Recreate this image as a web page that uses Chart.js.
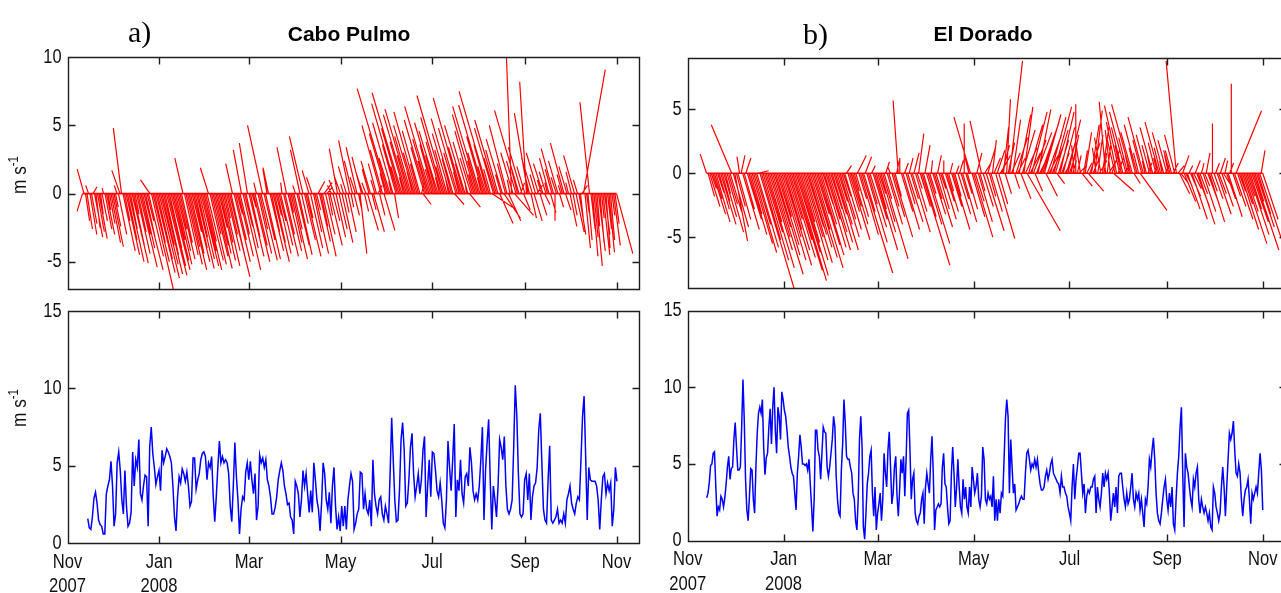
<!DOCTYPE html>
<html><head><meta charset="utf-8">
<script src="https://cdn.jsdelivr.net/npm/chart.js@4.4.1/dist/chart.umd.min.js"></script>
<style>
html,body{margin:0;padding:0;background:#fff;overflow:hidden;width:1281px;height:593px;position:relative;}
canvas{position:absolute;}
.lbl{position:absolute;white-space:nowrap;color:#000;line-height:1;}
.ttl{font:bold 21px 'Liberation Sans',Arial,sans-serif;transform:translateX(-50%);}
.ser{font:30px 'Liberation Serif','Times New Roman',serif;}
.ylab{position:absolute;white-space:nowrap;color:#111;line-height:1;font:21px 'Liberation Sans',Arial,sans-serif;transform:translate(-50%,-50%) rotate(-90deg) scale(0.82,1);}
.ylab sup{font-size:14px;vertical-align:8px;line-height:1;}
</style></head><body>
<canvas id="tl" width="660" height="265" style="left:0;top:40px"></canvas>
<canvas id="bl" width="660" height="293" style="left:0;top:300px"></canvas>
<canvas id="tr" width="660" height="265" style="left:640px;top:40px"></canvas>
<canvas id="br" width="660" height="293" style="left:640px;top:300px"></canvas>
<div class="lbl ser" style="left:128px;top:15px">a)</div>
<div class="lbl ser" style="left:803px;top:17px">b)</div>
<div class="lbl ttl" style="left:349px;top:22px">Cabo Pulmo</div>
<div class="lbl ttl" style="left:983px;top:22px">El Dorado</div>
<div class="ylab" style="left:18px;top:175px">m s<sup>-1</sup></div>
<div class="ylab" style="left:18px;top:408px">m s<sup>-1</sup></div>
<script>
// ---------- axis data (x = days since 1 Nov 2007) ----------
const monthTickDays = [0, 61, 121, 182, 243, 305, 366];
const monthTickLabels = [['Nov','2007'], ['Jan','2008'], 'Mar', 'May', 'Jul', 'Sep', 'Nov'];
const xRange = [0, 381];
const cpVecTicks = [-5, 0, 5, 10];
const edVecTicks = [-5, 0, 5];
const speedTicks = [0, 5, 10, 15];

// ---------- Cabo Pulmo wind sticks (daily, from day 10), m/s ----------
const cpStickStart = 10;
const cpStickV = [
-1.3,1.8,-2.0,-2.6,0.6,-3.0,-2.2,0.5,-3.2,-2.5,
-2.8,-3.3,-1.5,-2.0,0.4,-2.6,-3.0,-1.2,-2.2,-3.6,
-3.9,-2.4,-1.0,0.6,-3.0,1.7,4.8,-4.2,-2.0,-4.5,
-3.4,-5.0,-2.6,-5.1,-3.8,-1.5,-4.4,-2.8,-5.4,-3.0,
-4.0,-5.6,-3.2,-2.0,-4.6,1.0,-7.0,-5.0,-3.6,-5.8,
-4.8,-6.2,-5.2,-3.8,-5.9,-4.5,-6.0,-5.3,-4.0,-5.6,
-4.9,-3.4,-5.2,-4.2,-2.6,-4.8,-3.6,2.6,-4.5,-5.2,
-3.9,-5.6,-4.4,-2.8,-5.0,-4.0,-5.5,-3.2,-4.8,-5.3,
-4.2,-5.6,-3.5,-4.9,1.9,-5.2,-3.0,-4.6,-5.5,-3.8,
-4.4,-2.5,-4.9,-3.6,-5.3,-1.8,-4.2,-3.0,-6.1,-4.5,
2.2,-5.0,-3.4,-1.5,-4.6,-3.0,3.2,-5.6,-2.4,-4.0,
3.7,-4.6,-3.2,-1.0,-5.0,-3.8,0.8,-4.4,-2.6,-4.9,
5.0,-3.4,-4.8,1.8,1.9,-4.2,-2.8,-5.0,-3.6,-1.6,
-4.4,-2.0,-3.8,0.8,-4.6,-3.0,3.4,-4.2,-1.4,-3.6,
-4.8,-2.6,0.6,-3.8,-4.5,3.2,-2.2,4.2,-3.4,-4.6,
-1.8,1.7,-4.0,1.2,-2.8,-4.4,-1.2,0.9,-3.5,-2.4,
-4.6,0.8,-3.0,0.5,-1.6,-3.8,0.6,-2.0,1.0,-3.2,
3.3,-2.6,1.4,-3.6,0.7,-1.4,2.0,-2.8,3.9,-1.0,
2.4,-1.6,1.2,3.4,-1.0,-4.4,2.7,1.5,-1.3,0.8,
-2.7,1.8,2.4,-1.2,-2.8,1.0,2.2,0.6,-1.6,5.0,
3.2,-2.7,1.5,4.4,7.7,2.6,0.9,5.2,-1.8,3.6,
6.6,2.0,4.8,7.4,1.2,3.8,5.8,2.8,6.2,4.2,
1.6,5.0,3.0,6.0,2.2,4.6,0.8,-0.8,3.4,5.4,
2.4,4.0,6.4,1.8,3.6,5.2,2.8,4.6,1.2,3.8,
5.6,2.0,7.2,3.2,1.0,4.4,2.6,5.5,-0.8,3.0,
4.8,1.6,7.0,3.4,2.2,5.0,0.8,3.8,-1.0,2.6,
4.6,1.4,5.8,2.4,6.4,3.0,1.2,4.2,6.5,2.0,
3.6,7.5,1.8,-1.0,4.8,2.6,5.4,3.2,-2.2,1.4,
4.0,-1.8,2.2,5.0,-2.0,1.0,10.8,3.0,-1.6,2.4,
1.6,6.1,0.8,3.4,-1.2,2.0,8.2,5.9,1.2,-1.8,
2.6,-2.0,1.4,0.6,3.0,-1.6,1.0,2.2,-0.8,1.6,
0.8,2.6,-1.4,1.8,3.3,-2.0,1.2,2.4,-1.0,0.6,
1.4,3.7,-1.2,2.0,0.8,-2.4,1.6,-1.6,2.8,-2.8,
1.0,-3.0,-1.8,0.6,9.1,-4.0,-1.4,-3.4,6.7,-2.6,
-4.6,-3.2,-5.3,-2.4,-4.2,-3.6,-1.8,-4.5,-3.0,-4.0,
-2.6,-4.3,-3.4,-1.6,-3.8,-2.2,-4.4];
const cpStickU = [
-0.4,-0.5,0.3,0.4,-0.2,0.5,0.4,0.3,0.6,0.3,
0.5,0.6,0.2,0.4,-0.1,0.5,0.6,0.2,0.4,0.7,
0.8,0.5,0.2,-0.2,0.6,-0.6,-0.6,0.9,0.4,1.0,
0.7,1.1,0.5,1.2,0.8,0.3,1.0,0.6,1.3,0.7,
0.9,1.4,0.7,0.5,1.1,-0.7,1.6,1.2,0.8,1.4,
1.1,1.5,1.3,0.9,1.4,1.0,1.5,1.3,0.9,1.4,
1.2,0.8,1.2,1.0,0.6,1.1,0.8,-0.6,1.0,1.2,
0.9,1.3,1.0,0.7,1.2,0.9,1.3,0.7,1.1,1.3,
1.0,1.3,0.8,1.2,-0.6,1.2,0.7,1.1,1.3,0.9,
1.0,0.6,1.1,0.8,1.2,0.4,1.0,0.7,1.5,1.0,
-0.5,1.2,0.8,0.4,1.1,0.7,-0.6,1.3,0.6,0.9,
-0.6,1.1,0.7,0.3,1.2,0.9,-0.2,1.0,0.6,1.2,
-1.1,0.8,1.1,-0.3,-0.4,1.0,0.6,1.2,0.8,0.4,
1.0,0.5,0.9,-0.1,1.1,0.7,-0.7,1.0,0.3,0.8,
1.1,0.6,-0.2,0.9,1.0,-0.7,0.5,-1.0,0.8,1.1,
0.4,-0.5,0.9,-0.4,0.6,1.0,0.3,0.5,0.8,0.5,
1.0,0.6,0.7,0.4,0.3,0.9,-0.3,0.5,-0.4,0.7,
-0.6,0.6,-0.5,0.8,-0.2,0.3,-0.6,0.6,-0.8,0.2,
-0.6,0.4,-0.4,-0.8,0.2,0.5,-0.7,-0.5,0.3,-0.3,
0.8,-0.5,-0.7,0.3,0.8,-0.3,-0.6,0.3,0.4,-1.4,
-0.9,0.8,-0.4,-1.3,-2.3,-0.8,-0.2,-1.5,0.3,-1.0,
-1.9,-0.6,-1.4,-2.2,-0.3,-1.1,-1.7,-0.8,-1.8,-1.2,
-0.4,-1.5,-0.9,-1.7,-0.6,-1.3,0.2,0.6,-1.0,-1.6,
-0.7,-1.2,-1.9,-0.5,-1.0,-1.5,-0.8,-1.4,-0.3,-1.1,
-1.6,-0.6,-2.1,-0.9,-0.2,-1.3,-0.7,-1.6,0.7,-0.9,
-1.4,-0.4,-2.0,-1.0,-0.6,-1.5,-0.1,-1.1,0.8,-0.8,
-1.3,-0.4,-1.7,-0.7,-1.9,-0.9,-0.3,-1.2,-1.9,-0.6,
-1.0,-2.2,-0.5,1.5,-1.4,-0.8,-1.6,-0.9,1.0,-0.4,
-1.2,1.2,-0.6,-1.3,0.9,-0.2,-0.4,-0.9,1.4,-0.7,
-0.4,-1.8,0.3,-1.0,0.5,-0.6,-0.5,-1.0,-0.3,0.4,
-0.8,0.6,-0.4,0.4,-0.9,0.5,-0.3,-0.7,0.4,-0.5,
-0.2,-0.7,0.4,-0.5,-0.9,0.0,-0.4,-0.7,0.3,-0.2,
-0.4,-1.0,0.4,-0.6,-0.2,0.5,-0.4,0.3,-0.8,0.6,
-0.3,0.5,0.2,0.4,1.6,0.4,0.2,0.3,-0.7,0.3,
0.4,0.3,0.5,0.2,0.5,0.3,0.2,0.5,0.4,0.3,
0.3,0.4,0.3,0.2,0.5,0.3,1.2];

// ---------- El Dorado wind sticks (daily, from day 12), m/s ----------
const edStickStart = 12;
const edStickV = [
1.5,-1.8,-2.6,-1.2,-3.2,-2.0,-3.8,-1.5,-2.8,-4.0,
-2.2,-3.4,-1.6,-4.6,-2.4,-3.0,3.8,-4.2,-5.3,-2.6,
-3.6,1.3,1.4,-4.4,-2.8,1.2,-3.6,-4.8,-3.2,-5.5,
-6.2,-4.0,-5.8,0.2,-9.1,-5.2,-6.8,-4.6,-7.4,-3.8,
-6.0,-5.0,-7.9,-4.2,-6.4,-5.6,-3.4,-6.8,-5.0,-7.2,
-4.4,-6.0,-3.6,-6.6,-5.2,-7.6,-8.4,-6.2,-8.0,-5.4,
-3.8,-6.8,-5.0,-7.0,-4.2,-4.8,-5.8,-6.6,-4.4,-7.4,
-3.2,-5.6,-6.4,-4.0,-2.4,-5.8,-3.6,-6.0,-4.6,-2.8,
-5.4,-3.2,-6.0,-4.0,-2.2,-5.0,-3.6,-1.8,-4.4,0.6,
-3.0,-5.2,-2.6,-4.0,-1.4,-3.4,1.4,-2.0,-4.8,-7.8,
-3.0,1.3,-5.4,-2.4,-4.2,0.6,-3.6,-6.0,-2.8,-4.6,
-1.6,-3.8,-6.7,-2.0,0.9,-4.0,-2.6,0.5,-3.4,-5.0,
-1.8,1.0,5.7,1.2,-3.0,-4.4,0.8,-2.4,-3.8,1.2,
-2.0,-4.6,1.6,-3.0,-1.2,3.1,-2.6,-7.2,-3.4,2.2,
-4.0,-5.5,-1.6,1.0,-3.2,-2.0,-4.2,1.4,-2.8,-1.2,
-3.6,1.0,-2.2,-3.0,-1.4,0.8,-2.6,-4.4,-1.8,0.6,
-3.2,1.0,-2.0,-3.8,3.9,-1.6,-2.8,1.2,4.4,-3.4,
-5.0,-2.2,1.6,-3.8,-1.4,4.1,-2.6,0.8,-4.5,2.0,
-1.8,-3.0,2.6,1.2,-5.1,1.8,-2.4,1.4,2.2,3.6,
-1.6,5.8,2.4,8.8,1.6,4.2,-1.2,2.8,1.2,4.6,
-2.0,3.4,5.2,2.0,-4.5,3.8,1.6,4.8,2.6,-1.4,
3.2,5.0,1.8,4.0,2.4,4.6,-1.8,3.0,1.4,4.4,
2.2,5.2,3.4,-0.8,2.6,4.8,1.6,3.6,0.8,2.4,
4.2,1.2,3.0,1.0,2.2,5.4,1.4,0.6,2.6,-1.0,
1.8,3.2,0.8,-1.4,2.4,3.8,1.2,4.9,2.0,3.0,
1.0,2.8,3.6,1.6,5.6,2.4,0.8,3.4,1.8,-1.4,
2.6,4.0,1.2,5.3,2.2,3.6,0.6,4.8,2.8,1.4,
5.4,3.2,-0.8,2.0,3.8,1.6,-2.9,2.6,4.4,1.0,
3.0,0.8,2.2,1.4,3.6,0.6,2.4,1.2,4.0,2.0,
1.0,3.2,0.6,2.6,1.4,1.8,1.8,0.8,3.0,8.8,
0.6,-1.6,-0.8,1.4,-2.2,-1.0,-2.8,0.6,-1.8,-3.6,
-1.2,1.0,-2.6,-4.0,-1.6,0.8,-3.0,-1.0,1.6,-2.4,
-3.8,-1.4,3.9,-2.0,0.8,-3.2,-1.6,1.2,-2.6,-0.8,
1.0,-2.0,-3.4,0.8,7.0,-1.8,-2.6,4.9,-3.6,-1.4,
-4.4,-2.4,-5.5,-3.0,-1.8,-4.8,-2.8,-3.8,-6.0,-2.2,
-4.2,-3.2,-6.6,1.8,-3.6];
const edStickU = [
-0.5,0.5,0.8,0.4,1.0,0.6,1.1,0.5,0.8,1.2,
0.6,1.0,0.4,1.3,0.7,0.9,-1.6,1.2,1.0,0.7,
1.0,-0.2,0.3,1.3,0.8,0.4,1.1,1.4,0.9,1.6,
1.8,1.2,1.7,0.8,2.7,1.5,2.0,1.4,2.2,1.1,
1.8,1.5,2.4,1.3,1.9,1.7,1.0,2.0,1.5,2.2,
1.3,1.8,1.1,2.0,1.6,2.3,2.5,1.9,2.4,1.6,
1.1,2.0,1.5,2.1,1.3,1.4,1.7,2.0,1.3,2.2,
1.0,1.7,1.9,1.2,0.8,1.7,1.1,1.8,1.4,0.9,
1.6,1.0,1.8,1.2,0.7,1.5,1.1,0.6,1.3,0.4,
0.9,1.6,0.8,1.2,0.4,1.0,0.7,0.6,1.4,2.4,
0.9,0.5,1.6,0.7,1.3,0.3,1.1,1.8,0.8,1.4,
0.5,1.1,2.0,0.6,0.3,1.2,0.8,-0.2,1.0,1.5,
0.5,0.2,-0.4,0.0,0.9,1.3,0.3,0.7,1.2,0.3,
0.6,1.4,0.4,0.9,0.4,0.4,0.8,2.2,1.0,0.4,
1.2,1.7,0.5,0.1,1.0,0.6,1.3,0.3,0.8,0.4,
1.1,0.0,0.7,0.9,0.4,0.2,0.8,1.3,0.5,0.2,
1.0,0.3,0.6,1.1,0.0,0.5,0.8,-0.3,-1.3,1.0,
1.5,0.7,0.4,1.1,0.4,-0.9,0.8,0.5,1.4,0.6,
0.5,0.9,0.3,0.5,1.5,0.6,0.7,0.8,0.6,0.4,
0.5,0.3,0.5,1.0,0.7,0.6,0.4,0.9,0.6,0.9,
0.8,1.0,0.7,0.9,2.6,1.1,0.8,1.2,1.0,0.6,
1.2,1.0,0.9,1.4,0.8,1.3,0.9,1.1,0.7,1.2,
0.9,1.4,1.0,0.6,0.8,1.1,0.6,0.9,0.5,0.7,
1.0,0.4,0.6,0.3,-0.2,0.0,0.3,0.6,-0.4,0.8,
0.3,0.5,0.4,1.2,0.8,0.6,0.5,0.6,-0.3,0.4,
0.6,-0.5,0.5,0.2,-0.5,0.3,0.5,-0.4,0.6,1.6,
-0.6,-0.8,0.4,-1.2,-0.5,-0.9,0.4,-1.3,-0.7,-0.3,
-1.5,-0.9,0.5,-0.5,-1.0,-0.4,2.1,-0.7,-1.2,-0.2,
-0.8,0.3,-0.6,-0.3,-1.0,0.2,-0.6,-0.3,-1.1,-0.5,
-0.2,-0.9,0.3,-0.7,-0.3,-0.5,-0.5,0.4,-0.8,-0.8,
0.5,0.8,0.6,0.5,0.9,0.5,1.0,0.3,0.8,1.2,
0.6,0.4,1.0,1.3,0.6,0.2,1.0,0.4,0.3,0.9,
1.2,0.5,0.0,0.7,0.3,1.1,0.6,0.4,0.9,0.5,
0.2,0.7,1.1,0.3,0.0,0.6,0.9,2.0,1.2,0.5,
1.4,0.8,1.8,1.0,0.6,1.6,0.9,1.3,2.0,0.7,
1.4,1.0,2.2,0.3,1.2];

// ---------- wind speed (m/s), read in two stretches per site ----------
const cpSpeedSpanA = [13.5, 195.2];
const cpSpeedA = [
1.6,1.0,0.9,1.7,2.9,3.3,2.6,1.5,1.2,1.1,
0.6,0.6,3.2,3.7,4.1,5.3,3.7,1.1,1.9,5.2,
5.9,4.7,2.8,1.9,4.7,2.4,1.1,1.3,2.0,5.9,
3.7,5.4,4.9,6.7,3.2,2.8,3.7,4.4,4.3,1.1,
6.2,7.5,5.8,4.9,3.8,4.3,4.7,3.4,6.0,5.2,
5.6,6.1,5.9,5.6,5.2,3.7,1.7,0.8,3.0,4.3,
3.9,4.8,4.5,4.0,4.6,3.7,2.4,2.7,5.5,5.5,
3.5,4.1,4.5,5.4,5.8,5.9,5.6,4.1,5.2,4.9,
5.6,3.1,1.4,3.0,4.9,6.6,5.2,5.6,5.2,5.4,
5.2,4.5,2.4,1.4,3.7,6.5,4.3,2.8,0.6,2.2,
3.0,2.8,4.6,5.2,4.1,5.3,4.1,3.2,4.5,1.5,
2.4,5.7,5.2,5.5,4.9,5.4,4.1,3.7,3.0,1.9,
1.9,2.3,3.0,4.1,4.7,5.2,4.7,3.7,3.2,2.5,
2.6,1.7,1.5,0.6,4.0,3.7,3.2,1.7,2.8,4.7,
3.7,4.5,3.2,2.0,3.4,2.0,5.2,4.1,2.8,2.2,
0.8,2.6,5.2,4.5,2.8,2.2,3.3,1.3,3.7,4.9,
2.4,0.9,1.7,0.8,2.4,1.1,2.4,0.9,2.8,3.7,
4.5,4.0,0.9,1.3,1.9,2.2,4.6];
const cpSpeedSpanB = [196.3, 366.3];
const cpSpeedB = [
4.5,2.2,3.2,2.2,1.9,2.8,1.1,5.4,3.2,2.4,
1.9,2.8,3.0,1.9,1.5,2.4,1.9,1.3,4.5,8.1,
5.4,2.8,1.4,1.5,3.4,6.7,7.8,6.0,2.4,2.6,
4.1,6.2,7.1,4.5,3.0,3.7,4.5,3.2,4.1,6.0,
6.9,1.7,3.7,5.4,3.0,5.9,5.8,4.7,3.4,3.0,
3.9,2.8,1.3,1.0,2.8,6.6,4.9,3.4,5.4,7.7,
1.7,4.1,3.4,5.4,3.2,2.6,4.3,4.5,3.7,6.2,
5.2,3.4,2.8,3.2,2.8,3.7,5.4,7.5,1.5,4.7,
6.5,8.0,4.1,0.9,3.7,2.8,1.7,3.7,6.7,6.2,
5.4,6.9,3.7,2.2,1.9,2.2,2.8,6.2,10.2,8.2,
4.5,1.9,1.7,1.9,4.1,4.5,2.8,4.5,1.5,3.0,
3.7,3.9,4.9,7.3,8.4,5.2,2.2,1.5,1.3,4.1,
6.3,1.5,1.3,1.5,1.7,2.2,1.3,1.5,1.3,1.9,
1.3,2.8,3.2,3.7,2.6,2.2,1.9,2.6,3.0,2.8,
5.4,8.2,9.5,5.6,1.5,4.9,4.1,4.0,4.0,4.0,
3.7,2.8,0.9,2.8,4.3,4.5,3.2,3.9,3.4,3.9,
1.1,2.2,4.9,4.0];
const edSpeedSpanA = [12.1, 183.5];
const edSpeedA = [
2.8,3.1,3.8,4.9,5.0,5.7,5.8,3.6,1.6,2.2,
2.0,2.9,2.7,2.2,2.8,3.7,4.8,5.5,4.0,4.7,
4.8,6.6,7.7,6.1,4.6,4.6,4.8,7.4,10.5,7.9,
4.0,2.0,1.3,2.9,4.7,4.6,2.7,1.8,4.8,7.0,
8.3,8.7,8.3,9.2,6.1,4.3,5.4,5.7,7.4,8.6,
6.3,8.7,10.0,7.2,5.7,8.7,8.1,6.6,9.7,9.2,
8.5,8.1,7.2,6.1,5.5,4.8,4.4,4.2,3.1,2.0,
4.4,5.5,6.9,6.1,5.0,5.0,4.9,5.0,4.6,5.3,
3.7,2.2,0.6,2.7,7.2,7.2,5.9,5.5,4.0,5.7,
7.4,7.1,7.0,4.8,4.2,4.8,5.7,6.6,8.1,7.4,
4.2,2.7,1.8,1.6,4.6,6.3,9.2,7.7,5.5,5.3,
5.3,4.8,4.4,3.1,2.7,1.3,0.7,2.7,6.6,8.1,
6.1,0.9,0.1,1.8,3.7,4.4,5.5,5.9,3.1,1.6,
3.5,0.7,1.8,2.4,3.1,1.3,2.7,5.7,4.4,3.5,
5.9,7.1,4.8,2.4,3.1,4.8,5.5,2.9,1.6,3.3,
5.3,4.4,5.5,2.9,5.3,8.3,8.5,5.9,2.7,4.0,
4.4,1.8,1.3,1.1,1.6,1.8,2.7,3.1,1.1,3.5,
4.4,3.7,3.1,5.3,6.8,4.4,0.7,2.0,2.2,2.4,
2.2,2.4,4.8,5.7,3.7,3.5,2.2,1.1,1.3,4.4,
6.1,4.4,2.2,3.5,5.3,3.5,2.2,1.8,4.0,2.7,
3.5,2.2,1.8,3.5,2.2,4.8,4.0,3.1,3.5];
const edSpeedSpanB = [184.4, 366.0];
const edSpeedB = [
4.4,2.7,2.2,2.9,6.1,5.3,2.7,2.4,3.1,2.7,
2.9,2.2,4.2,1.3,2.7,1.3,2.7,1.8,3.1,2.9,
5.3,7.9,9.2,8.1,3.1,6.6,4.8,3.1,3.7,2.0,
2.2,2.4,2.7,2.9,2.7,2.7,4.4,5.7,5.9,5.3,
4.6,5.0,4.8,5.3,4.8,5.3,4.4,3.7,3.3,3.3,
3.5,4.2,4.6,4.0,4.4,5.0,5.3,4.4,4.2,4.0,
3.8,3.7,3.1,4.2,3.5,3.5,3.1,2.9,2.2,1.8,
1.3,3.5,5.0,2.7,4.0,4.8,5.7,5.7,4.4,3.1,
3.7,1.8,2.9,3.3,3.1,3.5,3.5,4.0,4.2,1.8,
3.5,2.7,2.2,3.1,4.4,3.5,4.4,4.0,4.4,3.1,
1.3,2.2,3.1,2.2,3.5,1.8,4.2,4.4,4.4,3.5,
2.7,2.2,3.1,2.4,2.7,3.5,4.4,2.7,2.2,3.1,
2.7,3.1,2.0,2.7,1.8,0.9,2.7,2.4,3.5,5.3,
4.8,5.9,6.7,5.3,3.1,1.8,1.3,1.1,1.8,2.7,
3.5,4.0,2.7,2.0,3.1,2.2,3.5,1.1,0.7,2.7,
4.4,5.5,7.4,8.7,4.4,0.9,5.7,4.8,4.4,3.5,
2.7,2.2,4.0,3.5,4.4,4.8,2.7,1.8,2.7,2.2,
1.8,2.2,1.8,1.3,1.8,0.9,0.7,3.5,3.1,2.2,
1.8,1.3,1.8,3.5,4.8,3.5,1.6,3.5,5.3,7.0,
6.6,7.0,7.8,5.9,4.4,4.2,5.0,4.4,2.7,1.6,
2.7,3.3,3.5,4.0,2.7,1.1,3.1,2.7,3.1,3.5,
3.1,4.4,5.7,4.6,2.0];

// horizontal display scale of the sticks (days per m/s) so that u and v share the same pixel length
const cpStickScale = 9.07;
const edStickScale = 8.12;

// ---------- builders ----------
function stickPoints(start, u, v, k) {
  const pts = [];
  for (let i = 0; i < v.length; i++) {
    const d = start + i;
    pts.push({x: d, y: 0}, {x: d + u[i] * k, y: v[i]}, {x: d, y: null});
  }
  return pts;
}
function seriesPoints(vals, span) {
  const step = (span[1] - span[0]) / (vals.length - 1);
  return vals.map((v, i) => ({x: span[0] + i * step, y: v}));
}

const BASE_FONT = "'Liberation Sans',Arial,sans-serif";

// MATLAB-like box with inward ticks, and condensed tick labels placed at the scales' tick pixels
const boxPlugin = {
  id: 'matlabBox',
  afterDraw(chart) {
    const {ctx, chartArea: a, scales: {x, y}} = chart;
    const opt = chart.options.plugins.matlabBox;
    const L = Math.round(a.left) + 0.5, R = Math.round(a.right) + 0.5;
    const T = Math.round(a.top) + 0.5, B = Math.round(a.bottom) + 0.5;
    const tl = 7;
    ctx.save();
    ctx.strokeStyle = '#1e1e1e';
    ctx.lineWidth = 1.4;
    ctx.beginPath();
    ctx.rect(L, T, R - L, B - T);
    x.ticks.forEach(t => {
      const p = Math.round(x.getPixelForValue(t.value)) + 0.5;
      ctx.moveTo(p, B); ctx.lineTo(p, B - tl);
      ctx.moveTo(p, T); ctx.lineTo(p, T + tl);
    });
    y.ticks.forEach(t => {
      const p = Math.round(y.getPixelForValue(t.value)) + 0.5;
      ctx.moveTo(L, p); ctx.lineTo(L + tl, p);
      ctx.moveTo(R, p); ctx.lineTo(R - tl, p);
    });
    ctx.stroke();

    ctx.fillStyle = '#111';
    // y tick labels
    ctx.font = '20px ' + BASE_FONT;
    ctx.textAlign = 'right';
    ctx.textBaseline = 'middle';
    y.ticks.forEach(t => {
      ctx.save();
      ctx.translate(a.left - 6, y.getPixelForValue(t.value));
      ctx.scale(0.82, 1);
      ctx.fillText(String(t.value), 0, 0);
      ctx.restore();
    });
    // x tick labels (bottom panels only)
    if (opt.showX) {
      ctx.font = '21px ' + BASE_FONT;
      ctx.textAlign = 'center';
      ctx.textBaseline = 'alphabetic';
      x.ticks.forEach((t, i) => {
        const lab = [].concat(monthTickLabels[i]);
        lab.forEach((s, j) => {
          ctx.save();
          ctx.translate(x.getPixelForValue(t.value), a.bottom + 24.5 + j * 24.5);
          ctx.scale(0.79, 1);
          ctx.fillText(s, 0, 0);
          ctx.restore();
        });
      });
    }
    ctx.restore();
  }
};

function panel(id, cfg) {
  return new Chart(document.getElementById(id), {
    type: 'line',
    data: {datasets: cfg.datasets},
    options: {
      responsive: false, animation: false, devicePixelRatio: 1, events: [],
      layout: {padding: cfg.pad},
      plugins: {legend: {display: false}, tooltip: {enabled: false}, title: {display: false},
                matlabBox: {showX: cfg.showX}},
      elements: {point: {radius: 0, hoverRadius: 0}, line: {tension: 0}},
      scales: {
        x: {
          type: 'linear', min: xRange[0], max: xRange[1],
          afterBuildTicks: s => { s.ticks = monthTickDays.map(v => ({value: v})); },
          ticks: {display: false, autoSkip: false, callback: (v, i) => monthTickLabels[i]},
          grid: {display: false, drawTicks: false}, border: {display: false},
          afterFit: s => { s.height = cfg.xHeight; s.paddingLeft = 0; s.paddingRight = 0; }
        },
        y: {
          type: 'linear', min: cfg.yMin, max: cfg.yMax,
          afterBuildTicks: s => { s.ticks = cfg.yTicks.map(v => ({value: v})); },
          ticks: {display: false},
          grid: {display: false, drawTicks: false}, border: {display: false},
          afterFit: s => { s.width = 40; s.paddingTop = 0; s.paddingBottom = 0; }
        }
      }
    },
    plugins: [boxPlugin]
  });
}

const red = '#ff0000', blue = '#0000ff';
function stickDatasets(start, u, v, k) {
  return [
    {data: stickPoints(start, u, v, k), borderColor: red, borderWidth: 1.2, spanGaps: false, pointRadius: 0},
    {data: [{x: start, y: 0}, {x: start + v.length - 1, y: 0}], borderColor: red, borderWidth: 1.6, pointRadius: 0}
  ];
}
function speedDataset(a, spanA, b, spanB) {
  return [{data: seriesPoints(a, spanA).concat(seriesPoints(b, spanB)), borderColor: blue, borderWidth: 1.5, pointRadius: 0}];
}

panel('tl', {pad: {left: 27.5, right: 21, top: 17.3, bottom: 16}, xHeight: 0, showX: false,
  yMin: -7, yMax: 10, yTicks: cpVecTicks, datasets: stickDatasets(cpStickStart, cpStickU, cpStickV, cpStickScale)});
panel('bl', {pad: {left: 27.5, right: 21, top: 11, bottom: 0}, xHeight: 49.7, showX: true,
  yMin: 0, yMax: 15, yTicks: speedTicks, datasets: speedDataset(cpSpeedA, cpSpeedSpanA, cpSpeedB, cpSpeedSpanB)});
panel('tr', {pad: {left: 7.7, right: 13.7, top: 18.3, bottom: 16.7}, xHeight: 0, showX: false,
  yMin: -9, yMax: 9, yTicks: edVecTicks, datasets: stickDatasets(edStickStart, edStickU, edStickV, edStickScale)});
panel('br', {pad: {left: 7.7, right: 13.7, top: 10.5, bottom: 0}, xHeight: 52.3, showX: true,
  yMin: 0, yMax: 15, yTicks: speedTicks, datasets: speedDataset(edSpeedA, edSpeedSpanA, edSpeedB, edSpeedSpanB)});
</script>
</body></html>
